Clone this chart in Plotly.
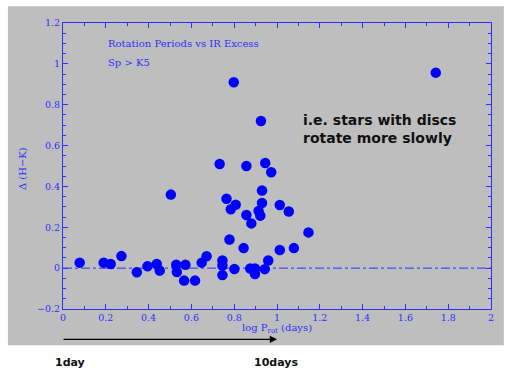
import plotly.graph_objects as go

# Data (log P_rot in days, Delta(H-K))
log_prot = [0.078, 0.19, 0.223, 0.273, 0.345, 0.395, 0.438, 0.452, 0.504, 0.529,
            0.532, 0.572, 0.566, 0.617, 0.648, 0.671, 0.732, 0.745, 0.745, 0.745,
            0.764, 0.778, 0.784, 0.807, 0.801, 0.798, 0.844, 0.857, 0.857, 0.880,
            0.875, 0.897, 0.897, 0.914, 0.922, 0.925, 0.930, 0.930, 0.945, 0.943,
            0.959, 0.973, 1.013, 1.013, 1.055, 1.079, 1.147, 1.742]
delta_hk = [0.027, 0.027, 0.020, 0.059, -0.020, 0.009, 0.020, -0.012, 0.360, 0.017,
            -0.019, 0.017, -0.061, -0.061, 0.027, 0.058, 0.510, 0.038, 0.013, -0.034,
            0.340, 0.140, 0.288, 0.310, -0.004, 0.910, 0.098, 0.500, 0.260, 0.219,
            -0.002, -0.002, -0.029, 0.280, 0.257, 0.720, 0.380, 0.319, 0.515, -0.005,
            0.037, 0.469, 0.309, 0.089, 0.277, 0.098, 0.175, 0.957]

x_ticks = [0, 0.2, 0.4, 0.6, 0.8, 1, 1.2, 1.4, 1.6, 1.8, 2]
y_ticks = [-0.2, 0, 0.2, 0.4, 0.6, 0.8, 1, 1.2]

BLUE = "#2e2eff"
GRAY = "#bebebe"
serif = "DejaVu Serif"

fig = go.Figure()
fig.add_trace(go.Scatter(
    x=log_prot, y=delta_hk, mode="markers",
    marker=dict(size=10.5, color="#0000ff", line=dict(width=0)),
    showlegend=False, hoverinfo="skip"))

axis_common = dict(
    showline=True, linecolor=BLUE, linewidth=1, mirror="allticks",
    ticks="inside", ticklen=5, tickcolor=BLUE, tickwidth=1,
    showgrid=False, zeroline=False,
    tickfont=dict(family=serif, size=9.5, color=BLUE),
)

fig.update_xaxes(range=[0, 2], tickvals=x_ticks,
                 minor=dict(dtick=0.1, ticks="inside", ticklen=3, tickcolor=BLUE),
                 **axis_common)
fig.update_yaxes(range=[-0.2, 1.2], tickvals=y_ticks,
                 minor=dict(dtick=0.05, ticks="inside", ticklen=3, tickcolor=BLUE),
                 **axis_common)

# background panel
fig.add_shape(type="rect", xref="paper", yref="paper",
              x0=-0.1286, x1=1.03, y0=-0.1269, y1=1.0584,
              fillcolor=GRAY, line=dict(width=0), layer="below")
# zero line
fig.add_shape(type="line", xref="x", yref="y", x0=0, x1=2, y0=0, y1=0,
              line=dict(color=BLUE, width=1, dash="dashdot"), layer="below")

ann = []
ann.append(dict(x=0.2016, y=1.102, xref="x", yref="y", xanchor="left", yanchor="middle",
                text="Rotation Periods vs IR Excess", showarrow=False,
                font=dict(family=serif, size=10, color=BLUE)))
ann.append(dict(x=0.2016, y=1.006, xref="x", yref="y", xanchor="left", yanchor="middle",
                text="Sp &gt; K5", showarrow=False,
                font=dict(family=serif, size=10, color=BLUE)))
ann.append(dict(x=1.11, y=0.679, xref="x", yref="y", xanchor="left", yanchor="middle",
                align="left", text="i.e. stars with discs<br>rotate more slowly",
                showarrow=False,
                font=dict(family="DejaVu Sans", size=14, color="#111111", weight="bold")))
# axis titles
ann.append(dict(x=1.0, y=-0.0675, xref="x", yref="paper", xanchor="center", yanchor="middle",
                text="log P<sub>rot</sub> (days)", showarrow=False,
                font=dict(family=serif, size=10, color=BLUE)))
ann.append(dict(x=-0.0962, y=0.492, xref="paper", yref="paper", xanchor="center",
                yanchor="middle", textangle=-90, text="Δ (H−K)", showarrow=False,
                font=dict(family=serif, size=10, color=BLUE)))
# arrow from 1 day to 10 days
ann.append(dict(x=1.0, y=-0.106, xref="x", yref="paper", ax=-215, ay=0,
                axref="pixel", ayref="pixel", text="", showarrow=True,
                arrowhead=2, arrowsize=1.2, arrowwidth=1.2, arrowcolor="black"))
ann.append(dict(x=-0.0225, y=-0.1864, xref="paper", yref="paper", xanchor="left",
                yanchor="middle", text="1day", showarrow=False,
                font=dict(family="DejaVu Sans", size=11, color="#111111", weight="bold")))
ann.append(dict(x=0.4415, y=-0.1864, xref="paper", yref="paper", xanchor="left",
                yanchor="middle", text="10days", showarrow=False,
                font=dict(family="DejaVu Sans", size=11, color="#111111", weight="bold")))

fig.update_layout(
    width=505, height=372,
    margin=dict(l=62.5, r=11, t=22.7, b=63.3),
    paper_bgcolor="white", plot_bgcolor=GRAY,
    annotations=ann,
)

fig.write_html("out.html", config={"displayModeBar": False},
               post_script="document.body.style.margin='0';document.body.style.overflow='hidden';")
